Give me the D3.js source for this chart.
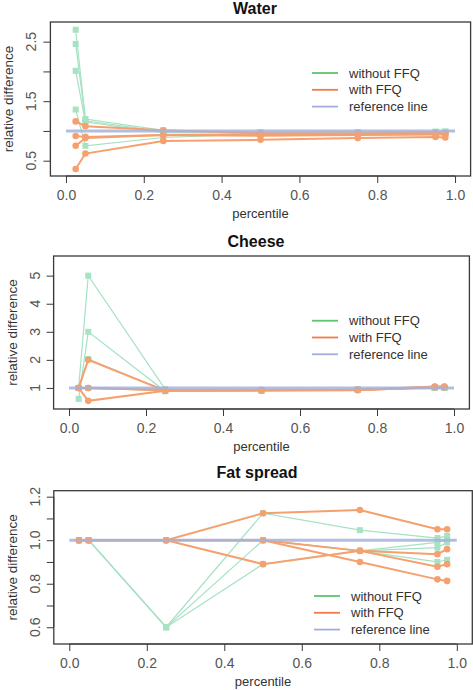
<!DOCTYPE html>
<html><head><meta charset="utf-8">
<script src="https://cdn.jsdelivr.net/npm/d3@7"></script>
<style>body{margin:0;background:#fff;}svg{display:block;font-family:"Liberation Sans",Arial,sans-serif;}</style>
</head><body>
<script>
const percentiles = [0.025, 0.05, 0.25, 0.5, 0.75, 0.95, 0.975];
const seriesNames = ["without FFQ", "with FFQ", "reference line"];
const xTicks = [0, 0.2, 0.4, 0.6, 0.8, 1.0];

const waterWithout = [
  [2.70, 1.20, 1.01, 0.98, 0.98, 0.99, 0.99],
  [2.46, 1.17, 0.99, 0.97, 0.98, 0.98, 0.99],
  [2.01, 1.15, 0.97, 0.96, 0.97, 0.98, 0.98],
  [1.36, 0.75, 0.89, 0.95, 0.96, 0.97, 0.97]
];
const waterWith = [
  [1.16, 1.08, 1.01, 0.96, 0.96, 0.97, 0.96],
  [0.915, 0.90, 0.93, 0.93, 0.94, 0.95, 0.95],
  [0.75, 0.88, 0.93, 0.92, 0.93, 0.94, 0.94],
  [0.36, 0.62, 0.83, 0.85, 0.88, 0.90, 0.89]
];
const cheeseWithout = [
  [1.0, 5.0, 0.95, 0.92, 0.95, 1.0, 1.0],
  [0.61, 3.0, 0.88, 0.90, 0.93, 1.0, 1.0],
  [1.0, 2.03, 0.90, 0.92, 0.95, 1.0, 1.0],
  [1.0, 1.0, 0.90, 0.91, 0.94, 1.0, 1.0]
];
const cheeseWith = [
  [1.0, 2.0, 0.90, 0.92, 0.93, 1.04, 1.04],
  [1.0, 0.54, 0.90, 0.91, 0.92, 1.03, 1.03],
  [1.0, 1.0, 0.93, 0.93, 0.94, 1.05, 1.05],
  [1.0, 1.0, 0.92, 0.92, 0.93, 1.02, 1.02]
];
const fatWithout = [
  [1, 1, 0.6, 1.124, 1.046, 1.01, 1.02],
  [1, 1, 0.6, 1.0, 0.951, 0.966, 0.99],
  [1, 1, 0.6, 0.89, 0.951, 0.90, 0.91],
  [1, 1, 1.0, 1.0, 0.951, 0.99, 1.0]
];
const fatWith = [
  [1, 1, 1, 1.124, 1.139, 1.05, 1.05],
  [1, 1, 1, 1.0, 0.90, 0.82, 0.813],
  [1, 1, 1, 0.89, 0.951, 0.936, 0.959],
  [1, 1, 1, 1.0, 0.951, 0.878, 0.89]
];

const waterYTicks = [0.5, 1.0, 1.5, 2.0, 2.5];
const waterYLabels = [0.5, 1.5, 2.5];
const cheeseYTicks = [1, 2, 3, 4, 5];
const cheeseYLabels = [1, 2, 3, 4, 5];
const fatYTicks = [0.6, 0.7, 0.8, 0.9, 1.0, 1.1, 1.2];
const fatYLabels = [0.6, 0.8, 1.0, 1.2];

const C = {
  green: "#a6e2c3", orange: "#f5a06f", ref: "#a3b3dc",
  lgGreen: "#5cc46c", lgOrange: "#f07a48", lgRef: "#a4acdd"
};

const panels = [
  { title: "Water", without: waterWithout, withF: waterWith, yTicks: waterYTicks, yLabels: waterYLabels,
    fmt: d3.format(".1f"), box: {l: 50.4, r: 470.6, t: 22, b: 176}, ydom: [0.243, 2.83],
    titleX: 255, titleY: 13.5, legend: {x: 312, y: 73} },
  { title: "Cheese", without: cheeseWithout, withF: cheeseWith, yTicks: cheeseYTicks, yLabels: cheeseYLabels,
    fmt: d3.format("d"), box: {l: 53.6, r: 469.4, t: 256, b: 409}, ydom: [0.25, 5.70],
    titleX: 256, titleY: 247, legend: {x: 312, y: 320.7} },
  { title: "Fat spread", without: fatWithout, withF: fatWith, yTicks: fatYTicks, yLabels: fatYLabels,
    fmt: d3.format(".1f"), box: {l: 53.8, r: 472.3, t: 490.7, b: 644}, ydom: [0.523, 1.2275],
    titleX: 257, titleY: 478, legend: {x: 314, y: 596} }
];

const svg = d3.select("body").append("svg").attr("width", 473).attr("height", 690);

panels.forEach(p => {
  const g = svg.append("g");
  const x = d3.scaleLinear().domain([-0.04, 1.04]).range([p.box.l, p.box.r]);
  const y = d3.scaleLinear().domain(p.ydom).range([p.box.b, p.box.t]);
  const line = d3.line().x((d, i) => x(percentiles[i])).y(d => y(d));

  // without FFQ
  p.without.forEach(s => {
    g.append("path").attr("d", line(s)).attr("fill", "none").attr("stroke", C.green).attr("stroke-width", 1.2);
  });
  p.without.forEach(s => {
    g.selectAll(null).data(s).enter().append("rect")
      .attr("x", (d, i) => x(percentiles[i]) - 3).attr("y", d => y(d) - 3)
      .attr("width", 6).attr("height", 6).attr("fill", C.green);
  });
  // with FFQ
  p.withF.forEach(s => {
    g.append("path").attr("d", line(s)).attr("fill", "none").attr("stroke", C.orange).attr("stroke-width", 2);
  });
  p.withF.forEach(s => {
    g.selectAll(null).data(s).enter().append("circle")
      .attr("cx", (d, i) => x(percentiles[i])).attr("cy", d => y(d))
      .attr("r", 3.3).attr("fill", C.orange);
  });
  // reference line
  g.append("line").attr("x1", x(0)).attr("x2", x(1)).attr("y1", y(1)).attr("y2", y(1))
    .attr("stroke", C.ref).attr("stroke-width", 3).attr("stroke-opacity", 0.85);

  // box
  g.append("rect").attr("x", p.box.l).attr("y", p.box.t).attr("width", p.box.r - p.box.l).attr("height", p.box.b - p.box.t)
    .attr("fill", "none").attr("stroke", "#3a3a3a").attr("stroke-width", 1.3);

  // x axis
  const xa = g.append("g").attr("transform", `translate(0,${p.box.b})`)
    .call(d3.axisBottom(x).tickValues(xTicks).tickSize(7).tickFormat(d3.format(".1f")));
  xa.select(".domain").attr("d", `M${x(0)},0H${x(1)}`).attr("stroke", "#3a3a3a");
  xa.selectAll(".tick line").attr("stroke", "#3a3a3a");
  xa.selectAll(".tick text").attr("y", 14).attr("dy", "0.71em").attr("font-size", 14)
    .attr("fill", "#555").attr("font-family", "Liberation Sans, Arial, sans-serif");

  // y axis
  const ya = g.append("g").attr("transform", `translate(${p.box.l},0)`)
    .call(d3.axisLeft(y).tickValues(p.yTicks).tickSize(7).tickFormat(""));
  ya.select(".domain").attr("d", `M0,${y(p.yTicks[0])}V${y(p.yTicks[p.yTicks.length - 1])}`).attr("stroke", "#3a3a3a");
  ya.selectAll(".tick line").attr("stroke", "#3a3a3a");
  g.selectAll(null).data(p.yLabels).enter().append("text")
    .attr("transform", d => `translate(${p.box.l - 14},${y(d)}) rotate(-90)`)
    .attr("text-anchor", "middle").attr("font-size", 14).attr("fill", "#555")
    .text(d => p.fmt(d));

  // labels
  g.append("text").attr("x", p.titleX).attr("y", p.titleY).attr("text-anchor", "middle")
    .attr("font-size", 16).attr("font-weight", "bold").attr("fill", "#111").text(p.title);
  g.append("text").attr("x", (p.box.l + p.box.r) / 2).attr("y", p.box.b + 42).attr("text-anchor", "middle")
    .attr("font-size", 13).attr("fill", "#333").text("percentile");
  g.append("text").attr("transform", `translate(${p.box.l - 37},${(p.box.t + p.box.b) / 2}) rotate(-90)`)
    .attr("text-anchor", "middle").attr("font-size", 13.5).attr("fill", "#333").text("relative difference");

  // legend
  const lc = [C.lgGreen, C.lgOrange, C.lgRef];
  seriesNames.forEach((nm, i) => {
    const yy = p.legend.y + i * 16.8;
    g.append("line").attr("x1", p.legend.x).attr("x2", p.legend.x + 26).attr("y1", yy).attr("y2", yy)
      .attr("stroke", lc[i]).attr("stroke-width", 1.8);
    g.append("text").attr("x", p.legend.x + 37).attr("y", yy + 4.5).attr("font-size", 13).attr("fill", "#333").text(nm);
  });
});
</script>
</body></html>
